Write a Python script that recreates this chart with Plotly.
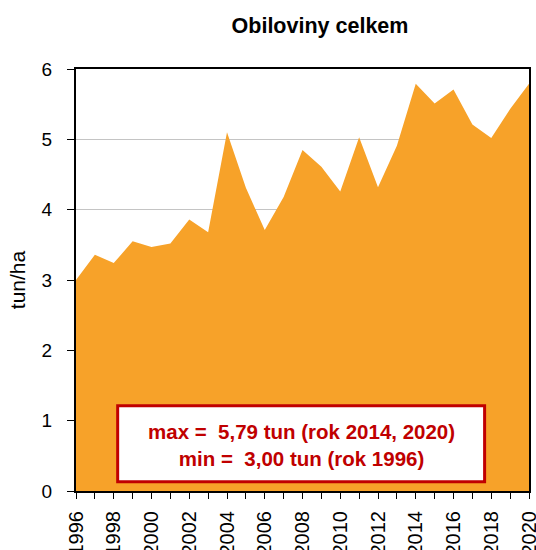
import plotly.graph_objects as go

years = list(range(1996, 2021))
yields = [3.00, 3.36, 3.24, 3.55, 3.47, 3.52, 3.86, 3.68, 5.10, 4.31, 3.71,
          4.18, 4.85, 4.61, 4.26, 5.03, 4.32, 4.91, 5.79, 5.51, 5.71, 5.21,
          5.02, 5.43, 5.79]
title_text = "Obiloviny celkem"
y_title = "tun/ha"
box_lines = ["max =  5,79 tun (rok 2014, 2020)", "min =  3,00 tun (rok 1996)"]
x_ticktext = [str(y) if (y - 1996) % 2 == 0 else "" for y in years]

FONT = "Liberation Sans, Arial, sans-serif"

fig = go.Figure()
fig.add_trace(go.Scatter(
    x=years, y=yields, mode="lines", fill="tozeroy",
    line=dict(width=0, color="#F7A229"), fillcolor="#F7A229",
    hoverinfo="x+y", showlegend=False,
))

fig.update_layout(
    width=536, height=550,
    margin=dict(l=76, r=7, t=69, b=59, autoexpand=False),
    paper_bgcolor="white", plot_bgcolor="white",
    font=dict(family=FONT, color="black"),
    title=dict(text="<b>" + title_text + "</b>", x=320 / 536, xanchor="center",
               xref="container", y=1 - 25 / 550, yanchor="middle",
               font=dict(size=21.5, family=FONT, color="black")),
    xaxis=dict(range=[1996, 2020], tickmode="array", tickvals=years,
               ticktext=x_ticktext, tickangle=-90, ticks="outside",
               ticklen=6, tickwidth=1, tickcolor="black",
               showline=True, linecolor="black", linewidth=2, mirror=True,
               showgrid=False, zeroline=False, automargin=False,
               ticklabeloverflow="allow", ticklabelstandoff=4,
               tickfont=dict(size=20, family=FONT, color="black")),
    yaxis=dict(range=[0, 6], tickmode="linear", tick0=0, dtick=1,
               ticks="outside", ticklen=7, tickwidth=1, tickcolor="black",
               showline=True, linecolor="black", linewidth=2, mirror=True,
               showgrid=True, gridcolor="#C4C4C4", gridwidth=1,
               zeroline=False, automargin=False, ticklabelstandoff=11,
               title=dict(text=y_title, standoff=10,
                          font=dict(size=21, family=FONT, color="black")),
               tickfont=dict(size=19, family=FONT, color="black")),
)

fig.add_shape(type="rect", xref="paper", yref="paper",
              x0=0.092, x1=0.902, y0=0.022, y1=0.202,
              line=dict(color="#C00000", width=3), fillcolor="white",
              layer="above")
fig.add_annotation(xref="paper", yref="paper", x=0.497, y=0.109,
                   xanchor="center", yanchor="middle",
                   text="<b>" + box_lines[0] + "</b><br><b>" + box_lines[1] + "</b>",
                   showarrow=False, align="center",
                   font=dict(size=20.5, family=FONT, color="#C00000"))

fig.write_html("out.html", config={"displayModeBar": False},
               post_script="document.body.style.margin='0';document.body.style.overflow='hidden';")
